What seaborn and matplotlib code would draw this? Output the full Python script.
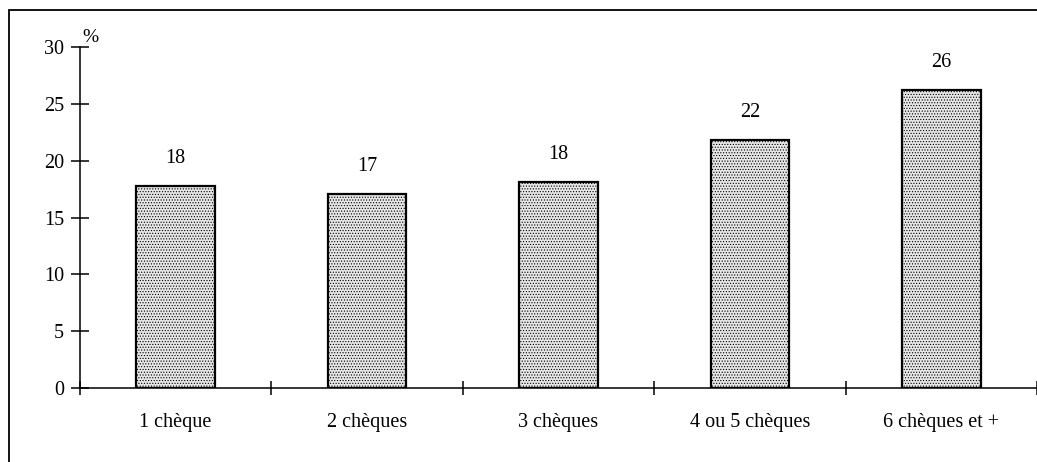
import matplotlib
matplotlib.use('Agg')
import matplotlib.pyplot as plt
import matplotlib.patches as patches
import seaborn as sns

# Data
categories = ['1 chèque', '2 chèques', '3 chèques', '4 ou 5 chèques', '6 chèques et +']
shares = [17.8, 17.1, 18.1, 21.8, 26.2]
shown = ['18', '17', '18', '22', '26']

sns.set_style('ticks')
plt.rcParams['font.family'] = ['Liberation Serif', 'DejaVu Serif']
plt.rcParams['text.color'] = 'black'
plt.rcParams['xtick.color'] = 'black'
plt.rcParams['ytick.color'] = 'black'
plt.rcParams['hatch.color'] = '#cdcdcd'
plt.rcParams['hatch.linewidth'] = 0.5

fig = plt.figure(figsize=(10.37, 4.62), dpi=100)
ax = fig.add_axes([0.0771, 0.160, 0.9229, 0.738])

sns.barplot(x=categories, y=shares, color='#e6e6e6', edgecolor='black',
            linewidth=1.6, width=0.41, saturation=1, ax=ax)
for bar in ax.patches:
    bar.set_hatch('......')

# value labels above bars
for bar, txt in zip(ax.patches, shown):
    ax.annotate(txt, (bar.get_x() + bar.get_width() / 2, bar.get_height()),
                xytext=(0, 13), textcoords='offset points',
                ha='center', va='bottom', fontsize=14.5, color='black')

ax.set_ylim(0, 30)
ax.set_xlim(-0.5, 4.5)
ax.set_yticks(range(0, 31, 5))
ax.set_xticks(range(len(categories)))
ax.set_xticklabels(categories)
ax.set_xticks([i + 0.5 for i in range(-1, len(categories))], minor=True)
ax.tick_params(axis='x', which='major', length=0, pad=18, labelsize=14.5)
ax.tick_params(axis='x', which='minor', direction='inout', length=10, width=1.1)
ax.tick_params(axis='y', direction='inout', length=13, width=1.1, pad=5, labelsize=14.5)
ax.set_xlabel('')
ax.set_ylabel('')

for side in ['top', 'right']:
    ax.spines[side].set_visible(False)
for side in ['left', 'bottom']:
    ax.spines[side].set_linewidth(1.1)
    ax.spines[side].set_color('black')

# "%" unit above the y axis
ax.text(0.003, 30.1, '%', ha='left', va='bottom', fontsize=14,
        transform=ax.get_yaxis_transform())

# scanned page frame (cropped on right and bottom)
frame = patches.Rectangle((9 / 1037, -0.05), 1.2, (462 - 10) / 462 + 0.05,
                          transform=fig.transFigure, fill=False,
                          edgecolor='black', linewidth=1.3, clip_on=False)
fig.patches.append(frame)

fig.savefig('out.png', dpi=100)
